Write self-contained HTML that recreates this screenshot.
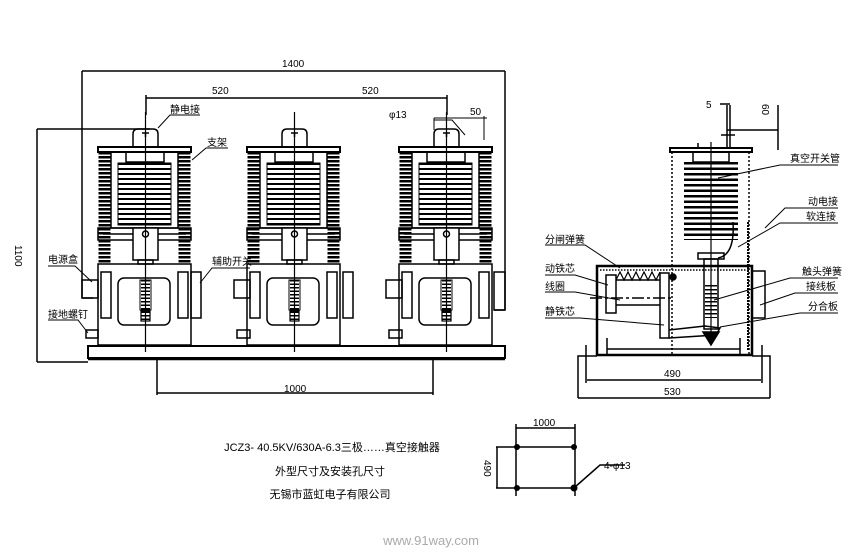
<!DOCTYPE html>
<html><head><meta charset="utf-8"><style>
html,body{margin:0;padding:0;background:#fff;width:863px;height:554px;overflow:hidden}
svg text{font-family:"Liberation Sans","Noto Sans CJK SC",sans-serif;fill:#000}
</style></head><body>
<svg width="863" height="554" viewBox="0 0 863 554" xmlns="http://www.w3.org/2000/svg">
<defs>
<g id="u" fill="none" stroke="#000" stroke-width="1.5">
  <path d="M35 147 V134 Q35 129 40 129 H55 Q60 129 60 134 V147"/>
  <path d="M44 133 H51 M47.5 133 V137" stroke-width="1.5"/>
  <rect x="0" y="147" width="93" height="5" stroke-width="2"/>
  <line x1="6.5" y1="152" x2="6.5" y2="264" stroke-width="12" stroke-dasharray="2.5 1.5"/>
  <line x1="86.5" y1="152" x2="86.5" y2="264" stroke-width="12" stroke-dasharray="2.5 1.5"/>
  <rect x="13" y="152" width="67" height="76"/>
  <rect x="28" y="152" width="38" height="10"/>
  <line x1="46.5" y1="163" x2="46.5" y2="225" stroke-width="52" stroke-dasharray="2 3"/>
  <rect x="20" y="163" width="53" height="62" stroke-width="1"/>
  <rect x="0" y="228" width="93" height="12"/>
  <line x1="5" y1="234" x2="88" y2="234"/>
  <rect x="35" y="228" width="25" height="32" fill="#fff"/>
  <circle cx="47.5" cy="234" r="3" />
  <rect x="40" y="260" width="15" height="4"/>
  <rect x="0" y="264" width="93" height="81"/>
  <rect x="20" y="278" width="52" height="47" rx="6"/>
  <rect x="3" y="272" width="10" height="46"/>
  <rect x="80" y="272" width="10" height="46"/>
  <line x1="47.5" y1="280" x2="47.5" y2="320" stroke-width="9" stroke-dasharray="1.5 2"/>
  <rect x="42" y="280" width="11" height="30" stroke-width="1"/>
  <rect x="43" y="311" width="9" height="10" stroke-width="1.2"/>
  <line x1="47.5" y1="112" x2="47.5" y2="352" stroke-width="1.2"/>
</g>
</defs>
<g fill="none" stroke="#000" stroke-width="1.5">
  <!-- 1400 -->
  <line x1="82" y1="71" x2="505" y2="71"/>
  <line x1="82" y1="71" x2="82" y2="298"/>
  <line x1="505" y1="71" x2="505" y2="310"/>
  <line x1="82" y1="298" x2="93" y2="298"/>
  <line x1="494" y1="310" x2="505" y2="310"/>
  <!-- 520 -->
  <line x1="146" y1="98" x2="447" y2="98"/>
  <line x1="146" y1="95" x2="146" y2="115"/>
  <line x1="447" y1="95" x2="447" y2="115"/>
  <!-- 1100 -->
  <line x1="37" y1="129" x2="37" y2="362"/>
  <line x1="37" y1="129" x2="150" y2="129"/>
  <line x1="37" y1="362" x2="88" y2="362"/>
  <!-- base -->
  <rect x="88" y="346" width="417" height="12" stroke-width="2"/>
  <line x1="88" y1="359" x2="505" y2="359" stroke-width="2.5"/>
  <!-- 1000 -->
  <line x1="157" y1="358" x2="157" y2="395"/>
  <line x1="433" y1="358" x2="433" y2="395"/>
  <line x1="157" y1="393" x2="433" y2="393"/>
  <!-- left small blocks -->
  <rect x="82" y="280" width="16" height="18"/>
  <rect x="86" y="330" width="12" height="8"/>
  <rect x="234" y="280" width="16" height="18"/><rect x="237" y="330" width="13" height="8"/>
  <rect x="386" y="280" width="16" height="18"/><rect x="389" y="330" width="13" height="8"/>
  <rect x="191" y="272" width="10" height="46"/><rect x="343" y="272" width="10" height="46"/><rect x="494" y="272" width="11" height="38"/>
</g>
<use href="#u" x="98"/>
<use href="#u" x="247"/>
<use href="#u" x="399"/>
<!-- leaders left -->
<g stroke="#000" stroke-width="1" fill="none">
  <polyline points="158,128 170,115 200,115"/>
  <polyline points="192,160 206,148 228,148"/>
  <polyline points="200,283 212,268 250,268"/>
  <polyline points="48,266 75,266 92,282"/>
  <polyline points="48,320 78,320 88,333"/>
  <polyline points="434,120 452,120 465,135"/>
  <line x1="434" y1="118" x2="487" y2="118"/>
  <line x1="434" y1="118" x2="434" y2="130"/><line x1="484" y1="116" x2="484" y2="140"/>
</g>
<g font-size="10">
  <text x="282" y="67">1400</text>
  <text x="212" y="94">520</text>
  <text x="362" y="94">520</text>
  <text x="170" y="113">静电接</text>
  <text x="207" y="146">支架</text>
  <text x="212" y="265">辅助开关</text>
  <text x="48" y="263">电源盒</text>
  <text x="48" y="318">接地螺钉</text>
  <text x="389" y="118">φ13</text>
  <text x="470" y="115">50</text>
  <text x="284" y="392">1000</text>
  <text x="15" y="245" transform="rotate(90 15 245)">1100</text>
</g>
<!-- side view -->
<g fill="none" stroke="#000" stroke-width="1.5">
  <rect x="670" y="148" width="82" height="4" stroke-width="2"/>
  <line x1="672" y1="152" x2="672" y2="355" stroke-dasharray="2 2"/>
  <line x1="749" y1="152" x2="749" y2="355" stroke-dasharray="2 2"/>
  <rect x="693" y="152" width="36" height="10"/>
  <line x1="711" y1="162" x2="711" y2="240" stroke-width="54" stroke-dasharray="2.5 3"/>
  <line x1="711" y1="142" x2="711" y2="345" stroke-width="1.2"/>
  <rect x="698" y="253" width="26" height="6"/>
  <rect x="704" y="259" width="14" height="70"/>
  <line x1="711" y1="285" x2="711" y2="318" stroke-width="12" stroke-dasharray="1.5 2.5"/>
  <polygon points="703,332 719,332 711,345" fill="#000"/>
  <polyline points="727,105 727,148 698,148 698,143"/>
  <line x1="730" y1="105" x2="730" y2="148"/>
  <line x1="727" y1="130" x2="778" y2="130"/>
  <line x1="778" y1="105" x2="778" y2="150"/>
  <line x1="720" y1="104" x2="730" y2="104"/>
  <line x1="721" y1="135" x2="735" y2="135"/>
  <rect x="597" y="266" width="155" height="89" stroke-width="2.5"/>
  <line x1="600" y1="270" x2="749" y2="270" stroke-dasharray="1.5 1.5"/>
  <rect x="752" y="271" width="13" height="47"/>
  <rect x="606" y="275" width="10" height="38"/>
  <rect x="660" y="273" width="9" height="65"/>
  <polyline points="616,280 620,272 624,280 628,272 632,280 636,272 640,280 644,272 648,280 652,272 656,280 660,272" stroke-width="1.2"/>
  <line x1="616" y1="280" x2="660" y2="280"/>
  <line x1="616" y1="305" x2="660" y2="305"/>
  <line x1="590" y1="298" x2="672" y2="298" stroke-dasharray="12 3 3 3"/>
  <polyline points="669,330 705,326 720,328 716,335 669,338"/>
  <path d="M733 222 Q735 255 718 258" />
  <line x1="748" y1="222" x2="748" y2="350" stroke-width="2" stroke-dasharray="2 1"/>
  <circle cx="673" cy="277" r="3" fill="#000"/>
  <polyline points="578,398 578,356 597,356"/>
  <polyline points="770,398 770,356 752,356"/>
  <line x1="578" y1="398" x2="770" y2="398"/>
  <line x1="586" y1="345" x2="586" y2="383"/><line x1="762" y1="345" x2="762" y2="383"/>
  <line x1="587" y1="380" x2="761" y2="380"/>
  <line x1="607" y1="338" x2="607" y2="355"/><line x1="740" y1="338" x2="740" y2="355"/>
  <line x1="607" y1="349" x2="740" y2="349"/>
</g>
<g stroke="#000" stroke-width="1" fill="none">
  <polyline points="718,178 780,165 838,165"/>
  <polyline points="765,228 785,208 838,208"/>
  <polyline points="738,247 780,223 838,223"/>
  <polyline points="545,245 585,245 620,268"/>
  <polyline points="545,275 575,275 608,285"/>
  <polyline points="545,292 575,292 620,300"/>
  <polyline points="545,318 580,318 664,325"/>
  <polyline points="714,300 790,278 838,278"/>
  <polyline points="760,305 795,293 838,293"/>
  <polyline points="720,327 800,313 838,313"/>
</g>
<g font-size="10">
  <text x="790" y="162">真空开关管</text>
  <text x="808" y="205">动电接</text>
  <text x="806" y="220">软连接</text>
  <text x="545" y="243">分闸弹簧</text>
  <text x="545" y="272">动铁芯</text>
  <text x="545" y="290">线圈</text>
  <text x="545" y="315">静铁芯</text>
  <text x="802" y="275">触头弹簧</text>
  <text x="806" y="290">接线板</text>
  <text x="808" y="310">分合板</text>
  <text x="706" y="108">5</text>
  <text x="762" y="104" transform="rotate(90 762 104)">60</text>
  <text x="664" y="377">490</text>
  <text x="664" y="395">530</text>
</g>
<!-- mounting holes -->
<g fill="none" stroke="#000" stroke-width="1.5">
  <line x1="516" y1="428" x2="575" y2="428"/>
  <line x1="516" y1="424" x2="516" y2="496"/>
  <line x1="575" y1="424" x2="575" y2="496"/>
  <line x1="496" y1="447" x2="575" y2="447"/>
  <line x1="496" y1="488" x2="575" y2="488"/>
  <line x1="497" y1="447" x2="497" y2="488"/>
  <polyline points="575,487 600,465 625,465"/>
</g>
<g fill="#000"><circle cx="517" cy="447" r="3"/><circle cx="574" cy="447" r="3"/><circle cx="517" cy="488" r="3"/><circle cx="574" cy="488" r="3.5"/></g>
<g font-size="10">
  <text x="533" y="426">1000</text>
  <text x="484" y="460" transform="rotate(90 484 460)">490</text>
  <text x="604" y="469">4-φ13</text>
</g>
<g font-size="11" text-anchor="middle">
  <text x="332" y="451">JCZ3- 40.5KV/630A-6.3三极……真空接触器</text>
  <text x="330" y="475">外型尺寸及安装孔尺寸</text>
  <text x="330" y="498">无锡市蓝虹电子有限公司</text>
</g>
<text x="431" y="545" font-size="13" text-anchor="middle" style="fill:#aaa">www.91way.com</text>
</svg>
</body></html>
